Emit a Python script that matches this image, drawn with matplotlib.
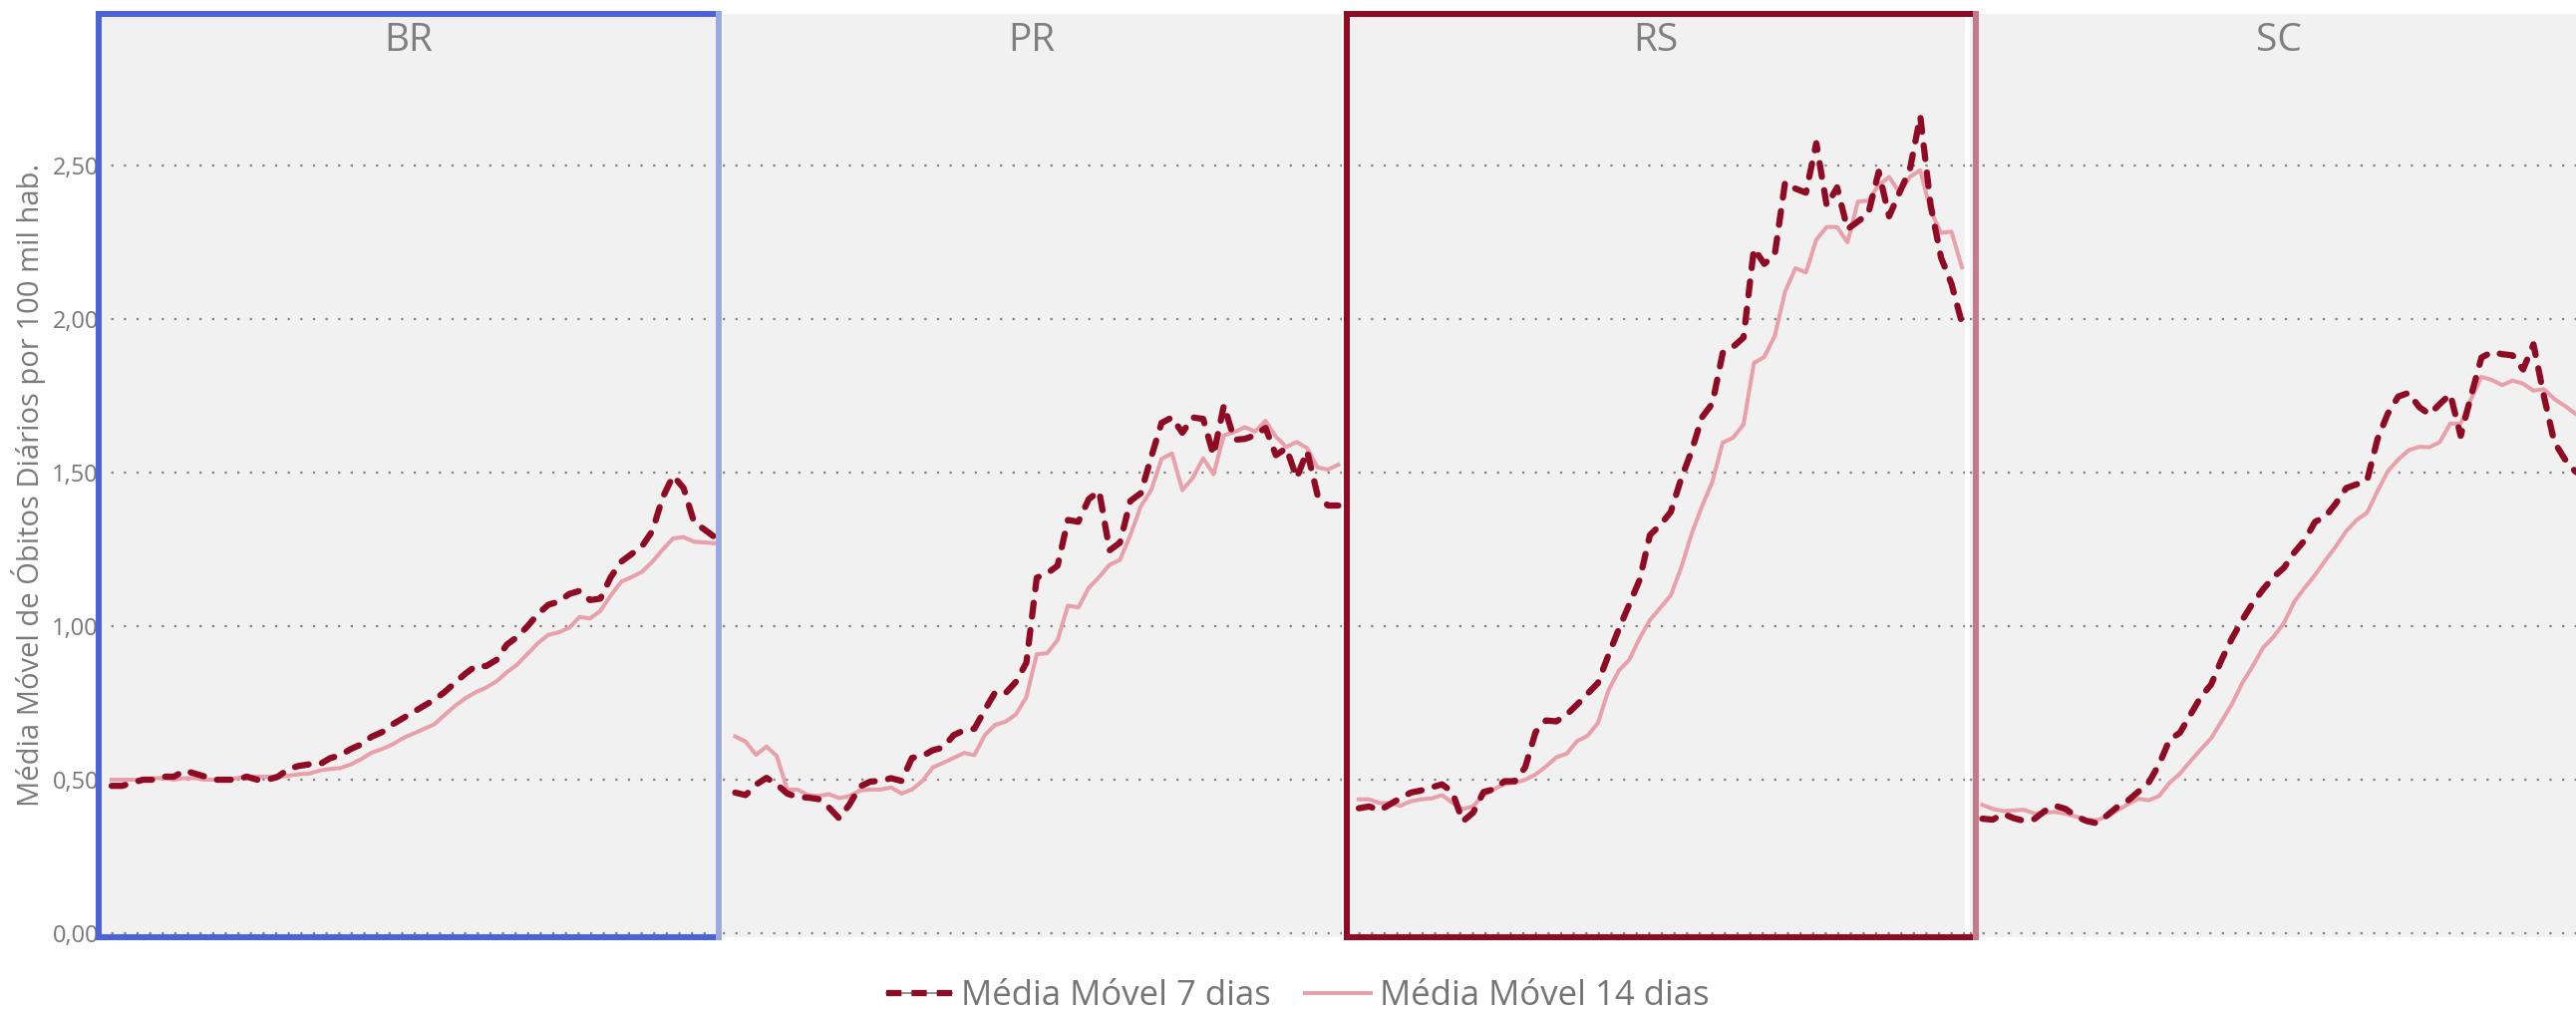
import matplotlib
matplotlib.use('Agg')
import matplotlib.pyplot as plt
import numpy as np
from matplotlib.lines import Line2D
from matplotlib.legend_handler import HandlerTuple

plt.rcParams['font.family'] = ['Open Sans', 'DejaVu Sans']
plt.rcParams['lines.scale_dashes'] = False

# painéis (estados) e séries, 59 dias cada
estados = ['BR', 'PR', 'RS', 'SC']

br_7 = [0.48, 0.48, 0.49, 0.50, 0.50, 0.51, 0.51, 0.53, 0.52,
        0.51, 0.50, 0.50, 0.50, 0.51, 0.50, 0.50, 0.51, 0.535, 0.545,
        0.55, 0.55, 0.57, 0.58, 0.60, 0.615, 0.64, 0.655, 0.68, 0.70,
        0.72, 0.74, 0.76, 0.785, 0.815, 0.845, 0.87, 0.87, 0.89, 0.94,
        0.965, 1.00, 1.04, 1.07, 1.08, 1.105, 1.115, 1.085, 1.09, 1.16,
        1.21, 1.235, 1.26, 1.31, 1.42, 1.49, 1.45, 1.34, 1.315, 1.29]
br_14 = [0.50, 0.50, 0.50, 0.50, 0.505, 0.505, 0.50, 0.505, 0.505,
         0.50, 0.50, 0.50, 0.505, 0.51, 0.51, 0.51, 0.51, 0.513, 0.518,
         0.52, 0.53, 0.535, 0.538, 0.55, 0.567, 0.588, 0.60, 0.615, 0.635,
         0.65, 0.665, 0.68, 0.71, 0.74, 0.765, 0.785, 0.80, 0.82, 0.85,
         0.875, 0.91, 0.945, 0.972, 0.98, 0.995, 1.03, 1.025, 1.05, 1.10,
         1.145, 1.16, 1.177, 1.21, 1.25, 1.286, 1.29, 1.275, 1.273, 1.27]

pr_7 = [0.458, 0.45, 0.484, 0.506, 0.485, 0.455, 0.443, 0.442, 0.437, 0.41,
        0.374, 0.42, 0.478, 0.494, 0.496, 0.505, 0.496, 0.571, 0.577, 0.596,
        0.605, 0.645, 0.661, 0.666, 0.727, 0.785, 0.782, 0.819, 0.881, 1.158,
        1.172, 1.197, 1.346, 1.34, 1.414, 1.44, 1.247, 1.272, 1.408, 1.433,
        1.55, 1.662, 1.68, 1.63, 1.68, 1.675, 1.557, 1.72, 1.607, 1.61,
        1.622, 1.646, 1.557, 1.58, 1.483, 1.57, 1.427, 1.393, 1.393]
pr_14 = [0.641, 0.624, 0.581, 0.608, 0.577, 0.468, 0.468, 0.45, 0.447, 0.453,
         0.44, 0.447, 0.465, 0.468, 0.468, 0.475, 0.455, 0.468, 0.496, 0.54,
         0.555, 0.571, 0.587, 0.58, 0.645, 0.679, 0.689, 0.713, 0.769, 0.909,
         0.912, 0.955, 1.067, 1.061, 1.125, 1.16, 1.20, 1.216, 1.297, 1.39,
         1.443, 1.545, 1.563, 1.443, 1.483, 1.547, 1.495, 1.622, 1.632, 1.648,
         1.634, 1.669, 1.617, 1.584, 1.60, 1.58, 1.517, 1.51, 1.526]

rs_7 = [0.407, 0.413, 0.40, 0.42, 0.44, 0.458, 0.465, 0.475, 0.485, 0.46,
        0.364, 0.393, 0.46, 0.469, 0.495, 0.495, 0.54, 0.655, 0.693, 0.69,
        0.712, 0.745, 0.78, 0.815, 0.905, 0.99, 1.07, 1.15, 1.297, 1.33,
        1.372, 1.48, 1.57, 1.68, 1.725, 1.89, 1.91, 1.94, 2.23, 2.18,
        2.21, 2.446, 2.425, 2.412, 2.573, 2.37, 2.429, 2.293, 2.318, 2.344,
        2.48, 2.335, 2.412, 2.488, 2.661, 2.37, 2.20, 2.115, 1.988]
rs_14 = [0.436, 0.436, 0.424, 0.424, 0.415, 0.43, 0.436, 0.439, 0.45, 0.425,
         0.404, 0.414, 0.45, 0.469, 0.486, 0.49, 0.50, 0.517, 0.543, 0.573,
         0.585, 0.626, 0.643, 0.685, 0.79, 0.855, 0.89, 0.96, 1.02, 1.06,
         1.10, 1.19, 1.30, 1.39, 1.47, 1.598, 1.614, 1.657, 1.857, 1.877,
         1.945, 2.09, 2.166, 2.152, 2.259, 2.30, 2.30, 2.25, 2.383, 2.386,
         2.437, 2.463, 2.412, 2.463, 2.485, 2.352, 2.281, 2.285, 2.169]

sc_7 = [0.373, 0.37, 0.389, 0.375, 0.366, 0.372, 0.398, 0.415, 0.405, 0.381,
        0.366, 0.358, 0.384, 0.412, 0.432, 0.461, 0.491, 0.55, 0.63, 0.653,
        0.711, 0.769, 0.81, 0.89, 0.96, 1.02, 1.075, 1.12, 1.16,
        1.19, 1.24, 1.28, 1.34, 1.357, 1.40, 1.45, 1.462, 1.475, 1.609,
        1.693, 1.748, 1.76, 1.714, 1.69, 1.724, 1.756, 1.62, 1.75, 1.875,
        1.893, 1.886, 1.882, 1.836, 1.918, 1.75, 1.60, 1.545, 1.505, 1.48]
sc_14 = [0.418, 0.405, 0.398, 0.40, 0.402, 0.39, 0.393, 0.395, 0.389, 0.38,
         0.37, 0.368, 0.38, 0.40, 0.42, 0.438, 0.433, 0.447, 0.49, 0.52,
         0.56, 0.598, 0.635, 0.69, 0.746, 0.815, 0.87, 0.93, 0.965,
         1.01, 1.08, 1.125, 1.167, 1.215, 1.26, 1.31, 1.346, 1.37, 1.44,
         1.505, 1.543, 1.573, 1.584, 1.583, 1.60, 1.66, 1.66, 1.74, 1.812,
         1.802, 1.785, 1.80, 1.79, 1.767, 1.772, 1.74, 1.718, 1.693, 1.67]

serie_7 = [br_7, pr_7, rs_7, sc_7]
serie_14 = [br_14, pr_14, rs_14, sc_14]

yticks = [0, 0.5, 1.0, 1.5, 2.0, 2.5]
ytick_labels = ['0,00', '0,50', '1,00', '1,50', '2,00', '2,50']

COR_7 = '#8E0B23'
COR_14 = '#E8A0AA'
CINZA = '#7A7A7A'

W, H = 2584, 1017
fig = plt.figure(figsize=(W / 100, H / 100), dpi=100)

# posições dos painéis em pixels
left0, pitch, width = 99, 625.5, 621
top_px, bot_px = 14, 940

for k, uf in enumerate(estados):
    left = left0 + pitch * k
    ax = fig.add_axes([left / W, 1 - bot_px / H, width / W, (bot_px - top_px) / H])
    ax.set_facecolor('#F1F1F1')
    x = np.arange(len(serie_7[k]))
    ax.plot(x, serie_14[k], color=COR_14, lw=2.9, solid_joinstyle='round', zorder=3)
    ax.plot(x, serie_7[k], color=COR_7, lw=4.5, linestyle=(0, (10, 9.8)),
            dash_capstyle='round', dash_joinstyle='round', zorder=4)
    ax.set_xlim(-1.246, 58.29)
    ax.set_ylim(-0.013, 2.994)
    ax.set_yticks(yticks)
    ax.set_xticks([])
    ax.grid(axis='y', color='#808080', linestyle=(0, (1.6, 7.5)), linewidth=1.6)
    ax.set_axisbelow(True)
    for s in ax.spines.values():
        s.set_visible(False)
    ax.tick_params(axis='y', length=0, pad=0, labelsize=17, labelcolor='#777777')
    if k == 0:
        ax.set_yticklabels(ytick_labels)
    else:
        ax.set_yticklabels([])
    ax.text(0.5, 0.971, uf, transform=ax.transAxes, ha='center', va='center',
            fontsize=28, color='#7F7F7F')


def borda(x0, x1, y0, y1, cor, cor_dir):
    # moldura de destaque: esquerda/topo/base numa cor, lado direito mais claro
    lw = 4.3
    segs = [((x0, x0), (y0, y1), cor), ((x0, x1), (y0, y0), cor),
            ((x0, x1), (y1, y1), cor), ((x1, x1), (y0, y1), cor_dir)]
    for xs, ys, c in segs:
        fig.add_artist(Line2D([v / W for v in xs], [1 - v / H for v in ys],
                              color=c, lw=lw, solid_capstyle='projecting', zorder=10))


borda(99, 721, 13.5, 940, '#4A63DA', '#9BA9E2')
borda(1350.5, 1982, 13.5, 940, COR_7, '#C47A88')

fig.text(29 / W, 1 - 486 / H, 'Média Móvel de Óbitos Diários por 100 mil hab.',
         rotation=90, ha='center', va='center', fontsize=21, color=CINZA)

# legenda: traço fino cinza por baixo dos traços vermelhos
h7_fundo = Line2D([], [], color='#808080', lw=1.2)
h7 = Line2D([], [], color=COR_7, lw=4.5, linestyle=(0, (11, 7.25)), dash_capstyle='butt')
h14 = Line2D([], [], color=COR_14, lw=2.9)
fig.legend(handles=[(h7_fundo, h7), h14],
           labels=['Média Móvel 7 dias', 'Média Móvel 14 dias'],
           handler_map={tuple: HandlerTuple(ndivide=1)},
           loc='center', bbox_to_anchor=(1302 / W, 1 - 999 / H), ncol=2,
           frameon=False, fontsize=25, labelcolor='#757575',
           handlelength=1.9, handletextpad=0.25, columnspacing=1.0)

fig.savefig('out.png', dpi=100)
